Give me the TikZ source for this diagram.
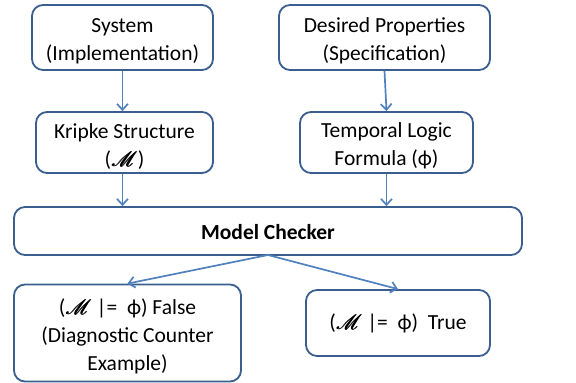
\documentclass[tikz,border=0pt]{standalone}
\usepackage{fontspec}
\usepackage{mathrsfs}
\setmainfont{Carlito}
\usetikzlibrary{arrows.meta}
% heavy script M, built by overprinting the rsfs glyph
\newcommand{\KM}{\rlap{$\mathscr{M}$}\kern0.4pt\rlap{$\mathscr{M}$}\kern0.4pt$\mathscr{M}$}
\newcommand{\phiform}{\char"03D5}
% taller first line: lowers the text block a little inside its box
\newcommand{\topstrut}{\rule{0pt}{22pt}}
\definecolor{boxline}{HTML}{3A5F8E}
\definecolor{arrowline}{HTML}{4F81BD}
\tikzset{
  box/.style={draw=boxline, line width=1.8pt, rounded corners=11pt, fill=white,
    align=center, font=\fontsize{21.5}{28}\selectfont, inner sep=0pt},
  link/.style={draw=arrowline, line width=1.7pt, -{Straight Barb[length=6pt,width=11pt]}}
}
\begin{document}
\begin{tikzpicture}[x=1pt,y=-1pt]
\useasboundingbox (0,0) rectangle (576,383);
\node[box, minimum width=181pt, minimum height=65pt] (sys) at (122.5,37.5) {\topstrut System\\(Implementation)};
\node[box, minimum width=211pt, minimum height=65pt] (des) at (384.5,37.5) {\topstrut Desired Properties\\(Specification)};
\node[box, minimum width=177pt, minimum height=61pt] (kri) at (124.5,142.5) {\topstrut Kripke Structure\\(\KM)};
\node[box, minimum width=173pt, minimum height=61pt] (tem) at (386.5,142.5) {\topstrut Temporal Logic\\Formula (\phiform)};
\node[box, minimum width=508pt, minimum height=48pt, font=\fontsize{21.5}{28}\selectfont\bfseries] (mc) at (268,231) {\rule{0pt}{18pt}Model Checker};
\node[box, minimum width=227pt, minimum height=97pt] (fal) at (127.5,333) {\topstrut(\KM\ |=\ \ \phiform) False\\(Diagnostic Counter\\Example)};
\node[box, minimum width=184pt, minimum height=66pt] (tru) at (398,323) {(\KM\ |=\ \ \phiform)\ \ True};
\coordinate (mcb) at (268,255);
\draw[link] (sys.south) -- (sys.south |- kri.north);
\draw[link] (des.south) -- (tem.north);
\draw[link] (sys.south |- kri.south) -- (sys.south |- mc.north);
\draw[link] (tem.south) -- (tem.south |- mc.north);
\draw[link] (mcb) -- (fal.north);
\draw[link] (mcb) -- (tru.north);
\end{tikzpicture}
\end{document}
